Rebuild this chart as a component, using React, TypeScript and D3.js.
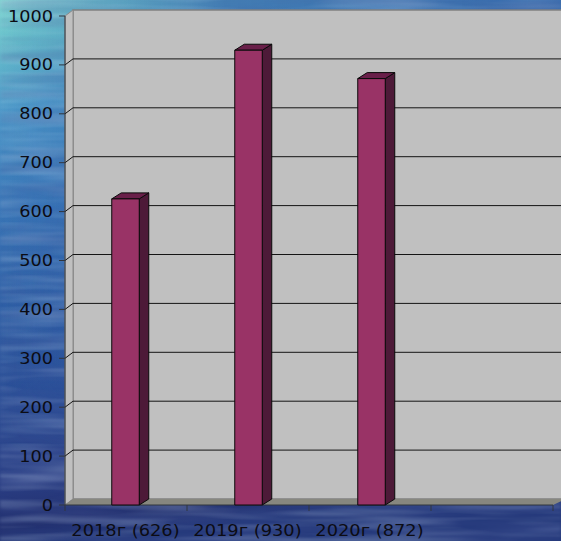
import React from "react";
import * as d3 from "d3";

const categories = ["2018г (626)", "2019г (930)", "2020г (872)", ""];
const values = [626, 930, 872];
const yTicks = [0, 100, 200, 300, 400, 500, 600, 700, 800, 900, 1000];

const W = 561;
const H = 541;
const DX = 8;
const DY = 6;
const BAR_DX = 9.5;
const BAR_W = 27.5;

// Axis ticks and labels sit on one band scale, the columns on a slightly wider one.
const x = d3.scaleBand<string>().domain(categories).range([65, 553]);
const barX = d3.scaleBand<string>().domain(categories).range([63.5, 555.5]);
const y = d3.scaleLinear().domain([0, 1000]).range([505, 16]);

const bgStops: [number, string][] = [
  [0, "#80d6d2"],
  [0.08, "#68c0cc"],
  [0.2, "#4c98c8"],
  [0.36, "#3a78b8"],
  [0.55, "#2f60a6"],
  [0.72, "#2b4e96"],
  [0.88, "#2a3e84"],
  [0.96, "#22306f"],
  [1, "#263a7c"],
];

const wallLeft = 65 + DX;
const wallRight = W + 5;
const wallTop = y(1000) - DY;
const floorBack = y(0) - DY;
const labelColor = "#0c0c14";
const axisColor = "#30363f";

export default function App() {
  return (
    <svg
      width={W}
      height={H}
      viewBox={`0 0 ${W} ${H}`}
      style={{ position: "fixed", left: 0, top: 0, display: "block" }}
    >
      <defs>
        <linearGradient id="sea" x1="0" y1="0" x2="0.12" y2="1">
          {bgStops.map(([o, c]) => (
            <stop key={o} offset={o} stopColor={c} />
          ))}
        </linearGradient>
        <linearGradient id="seaRight" x1="0" y1="0" x2="1" y2="0">
          <stop offset="0" stopColor="#2f5aa6" stopOpacity={0} />
          <stop offset="0.4" stopColor="#2f5aa6" stopOpacity={0.7} />
          <stop offset="1" stopColor="#2f5aa6" stopOpacity={0.8} />
        </linearGradient>
        <linearGradient id="seaFade" x1="0" y1="0" x2="0" y2="1">
          <stop offset="0" stopColor="#fff" stopOpacity={1} />
          <stop offset="0.7" stopColor="#fff" stopOpacity={0.8} />
          <stop offset="0.85" stopColor="#fff" stopOpacity={0} />
        </linearGradient>
        <mask id="rightFade">
          <rect width={W} height={H} fill="url(#seaFade)" />
        </mask>
        <filter id="ripples" x="0" y="0" width="100%" height="100%">
          <feTurbulence type="fractalNoise" baseFrequency="0.009 0.11" numOctaves={2} seed={4} />
          <feColorMatrix
            type="matrix"
            values="0 0 0 0 0.75  0 0 0 0 0.9  0 0 0 0 1  1.8 0 0 0 -0.72"
          />
          <feGaussianBlur stdDeviation="1.5 0.6" />
        </filter>
        <filter id="ripplesDark" x="0" y="0" width="100%" height="100%">
          <feTurbulence type="fractalNoise" baseFrequency="0.007 0.08" numOctaves={2} seed={11} />
          <feColorMatrix
            type="matrix"
            values="0 0 0 0 0.08  0 0 0 0 0.12  0 0 0 0 0.35  1.6 0 0 0 -0.6"
          />
          <feGaussianBlur stdDeviation="2 0.8" />
        </filter>
      </defs>

      {/* Sea backdrop */}
      <rect width={W} height={H} fill="url(#sea)" />
      <rect width={W} height={H} fill="url(#seaRight)" mask="url(#rightFade)" />
      <rect width={W} height={H} filter="url(#ripples)" opacity={0.3} />
      <rect width={W} height={H} filter="url(#ripplesDark)" opacity={0.4} />

      {/* Back wall, side wall and floor of the 3D plot box */}
      <rect x={wallLeft} y={wallTop} width={wallRight - wallLeft} height={floorBack - wallTop} fill="#c0c0c0" stroke="#808080" strokeWidth={1.5} />
      <polygon
        points={`65,${y(1000)} ${wallLeft},${wallTop} ${wallLeft},${floorBack} 65,${y(0)}`}
        fill="#c0c0c0"
        stroke="#8a8a8a"
        strokeWidth={1}
      />
      <polygon
        points={`65,${y(0)} ${wallLeft},${floorBack} ${wallRight},${floorBack} 553,${y(0)}`}
        fill="#87877f"
      />

      {/* Gridlines run up the side wall and across the back wall */}
      {yTicks.slice(1, -1).map((t) => (
        <path
          key={t}
          d={`M65,${y(t)} L${wallLeft},${y(t) - DY} H${W}`}
          fill="none"
          stroke="#141414"
          strokeWidth={1}
        />
      ))}

      {/* Value axis */}
      <line x1={65} x2={65} y1={y(1000)} y2={y(0) + 6} stroke={axisColor} strokeWidth={1} />
      {yTicks.map((t) => (
        <g key={t}>
          <line x1={59} x2={65} y1={y(t)} y2={y(t)} stroke={axisColor} strokeWidth={1} />
          <text
            transform={`translate(53,${y(t) + 5.5}) scale(1.18,1)`}
            textAnchor="end"
            fontFamily="DejaVu Sans"
            fontSize={15}
            fill={labelColor}
          >
            {t}
          </text>
        </g>
      ))}

      {/* Category axis */}
      <line x1={65} x2={553} y1={y(0)} y2={y(0)} stroke={axisColor} strokeWidth={1} />
      {categories.map((c) => (
        <line key={`tick-${c}`} x1={x(c)! + x.bandwidth()} x2={x(c)! + x.bandwidth()} y1={y(0)} y2={y(0) + 6} stroke={axisColor} strokeWidth={1} />
      ))}
      {categories.slice(0, 3).map((c) => (
        <text
          key={c}
          transform={`translate(${x(c)! + x.bandwidth() / 2 - 0.5},536) scale(1.19,1)`}
          textAnchor="middle"
          fontFamily="DejaVu Sans"
          fontSize={15}
          fill={labelColor}
        >
          {c}
        </text>
      ))}

      {/* Extruded bars */}
      {values.map((v, i) => {
        const cx = barX(categories[i])! + barX.bandwidth() / 2;
        const l = cx - BAR_W / 2 + 0.5;
        const r = l + BAR_W;
        const t = y(v);
        const b = y(0);
        return (
          <g key={categories[i]} stroke="#0a0a0a" strokeWidth={1} strokeLinejoin="round">
            <polygon
              points={`${r},${t} ${r + BAR_DX},${t - DY} ${r + BAR_DX},${b - DY} ${r},${b}`}
              fill="#4d1a38"
            />
            <polygon
              points={`${l},${t} ${l + BAR_DX},${t - DY} ${r + BAR_DX},${t - DY} ${r},${t}`}
              fill="#691f49"
            />
            <rect x={l} y={t} width={BAR_W} height={b - t} fill="#993366" />
          </g>
        );
      })}
    </svg>
  );
}
